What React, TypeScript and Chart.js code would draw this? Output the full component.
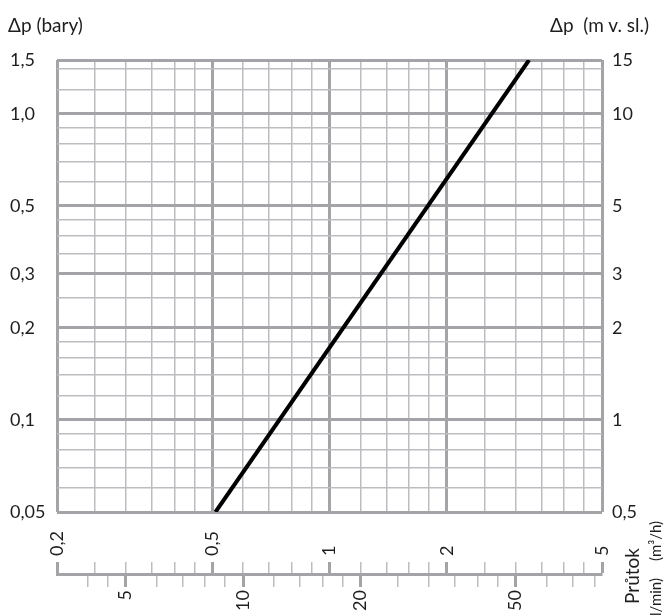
import React, { useEffect, useRef } from "react";
import { Chart, registerables } from "chart.js";

Chart.register(...registerables);

// ---- data ----
const flowM3h = [0.51, 3.25];
const pressureBar = [0.05, 1.5];

const xTicksM3h = [0.2, 0.25, 0.3, 0.35, 0.4, 0.45, 0.5, 0.6, 0.7, 0.8, 0.9, 1, 1.2, 1.4, 1.6, 1.8, 2, 2.5, 3, 3.5, 4, 4.5, 5];
const labeledM3h = [0.2, 0.5, 1, 2, 5];
const majorM3h = [0.2, 0.5, 1, 2, 5];

const yTicksBar = [0.05, 0.06, 0.07, 0.08, 0.09, 0.1, 0.12, 0.14, 0.16, 0.18, 0.2, 0.25, 0.3, 0.35, 0.4, 0.45, 0.5, 0.6, 0.7, 0.8, 0.9, 1, 1.2, 1.4, 1.5];
const labeledBar = [0.05, 0.1, 0.2, 0.3, 0.5, 1, 1.5];
const majorBar = [0.05, 0.1, 0.2, 0.3, 0.5, 1, 1.5];

const ticksMvsl = [0.5, 1, 2, 3, 5, 10, 15];

const ticksLmin = [4, 4.5, 5, 6, 7, 8, 9, 10, 12, 14, 16, 18, 20, 25, 30, 35, 40, 45, 50, 60, 70, 80];
const labeledLmin = [5, 10, 20, 50];

const FONT_FAMILY = "Lato, 'DejaVu Sans', sans-serif";
const TEXT = "#1e1e1e";
const MAJOR = "#a4a4a8";
const MINOR = "#bdbdc1";
const TICK_SIZE = 18;

const fmt = (v: number) => String(v).replace(".", ",");
const fmtBar = (v: number) => (v >= 1 ? v.toFixed(1) : String(v)).replace(".", ",");

const setTicks = (values: number[]) => (scale: any) => {
  scale.ticks = values.map((v) => ({ value: v }));
};

const widthBy = (major: number[], w1: number, w2: number) => (ctx: any) =>
  ctx.tick && major.includes(ctx.tick.value) ? w1 : w2;
const colorBy = (major: number[]) => (ctx: any) =>
  ctx.tick && major.includes(ctx.tick.value) ? MAJOR : MINOR;

export default function App() {
  const mainRef = useRef<HTMLCanvasElement | null>(null);
  const axisRef = useRef<HTMLCanvasElement | null>(null);

  useEffect(() => {
    const tickFont = { family: FONT_FAMILY, size: TICK_SIZE };

    const main = new Chart(mainRef.current as HTMLCanvasElement, {
      type: "line",
      data: {
        datasets: [
          {
            data: flowM3h.map((x, i) => ({ x, y: pressureBar[i] })),
            borderColor: "#000",
            borderWidth: 4,
            pointRadius: 0,
            fill: false,
            tension: 0,
            xAxisID: "x",
            yAxisID: "y",
          },
        ],
      },
      options: {
        responsive: false,
        animation: false,
        events: [],
        layout: { padding: { left: 10, right: 0, top: 60, bottom: 104 } },
        plugins: { legend: { display: false }, tooltip: { enabled: false } },
        scales: {
          x: {
            type: "logarithmic",
            position: "bottom",
            min: 0.2,
            max: 5,
            afterBuildTicks: setTicks(xTicksM3h),
            afterFit: (s: any) => {
              s.height = 0;
              s.paddingLeft = 0;
              s.paddingRight = 0;
            },
            ticks: { display: false, autoSkip: false },
            grid: {
              drawTicks: false,
              lineWidth: widthBy(majorM3h, 3, 1.5),
              color: colorBy(majorM3h),
            },
            border: { display: false },
          },
          y: {
            type: "logarithmic",
            position: "left",
            min: 0.05,
            max: 1.5,
            afterBuildTicks: setTicks(yTicksBar),
            afterFit: (s: any) => {
              s.width = 47;
              s.paddingTop = 0;
              s.paddingBottom = 0;
            },
            ticks: {
              autoSkip: false,
              crossAlign: "far",
              padding: 0,
              font: tickFont,
              color: TEXT,
              callback: (v: any) => (labeledBar.includes(Number(v)) ? fmtBar(Number(v)) : ""),
            },
            grid: {
              drawTicks: false,
              lineWidth: widthBy(majorBar, 3, 1.5),
              color: colorBy(majorBar),
            },
            border: { display: false },
          },
          y2: {
            type: "logarithmic",
            position: "right",
            min: 0.5,
            max: 15,
            afterBuildTicks: setTicks(ticksMvsl),
            afterFit: (s: any) => {
              s.width = 68;
              s.paddingTop = 0;
              s.paddingBottom = 0;
            },
            ticks: {
              autoSkip: false,
              padding: 10,
              font: tickFont,
              color: TEXT,
              callback: (v: any) => fmt(Number(v)),
            },
            grid: { drawOnChartArea: false, drawTicks: false },
            border: { display: false },
          },
        },
      },
    } as any);

    const axes = new Chart(axisRef.current as HTMLCanvasElement, {
      type: "line",
      data: { datasets: [] },
      options: {
        responsive: false,
        animation: false,
        events: [],
        layout: { padding: { left: 57, right: 68, top: 500, bottom: 0 } },
        plugins: { legend: { display: false }, tooltip: { enabled: false } },
        scales: {
          xm: {
            type: "logarithmic",
            position: "top",
            min: 0.2,
            max: 5,
            afterBuildTicks: setTicks(xTicksM3h),
            afterFit: (s: any) => {
              s.height = 73;
              s.paddingLeft = 0;
              s.paddingRight = 0;
            },
            ticks: {
              autoSkip: false,
              minRotation: 90,
              maxRotation: 90,
              padding: 6,
              labelOffset: TICK_SIZE * 1.2,
              font: tickFont,
              color: TEXT,
              callback: (v: any) => (labeledM3h.includes(Number(v)) ? fmt(Number(v)) : ""),
            },
            grid: {
              drawOnChartArea: false,
              tickLength: 11,
              lineWidth: widthBy(majorM3h, 3, 1.5),
              tickWidth: widthBy(majorM3h, 3, 1.5),
              tickColor: colorBy(majorM3h),
            },
            border: { display: false },
          },
          xl: {
            type: "logarithmic",
            position: "bottom",
            min: 10 / 3,
            max: 250 / 3,
            afterBuildTicks: setTicks(ticksLmin),
            afterFit: (s: any) => {
              s.height = 42;
              s.paddingLeft = 0;
              s.paddingRight = 0;
            },
            ticks: {
              autoSkip: false,
              minRotation: 90,
              maxRotation: 90,
              padding: 3,
              font: tickFont,
              color: TEXT,
              callback: (v: any) => (labeledLmin.includes(Number(v)) ? fmt(Number(v)) : ""),
            },
            grid: {
              drawOnChartArea: false,
              tickLength: 13,
              lineWidth: widthBy(labeledLmin, 3, 1.5),
              tickWidth: widthBy(labeledLmin, 3, 1.5),
              tickColor: colorBy(labeledLmin),
            },
            border: { display: true, width: 3, color: MAJOR },
          },
          y: { display: false },
        },
      },
    } as any);

    return () => {
      main.destroy();
      axes.destroy();
    };
  }, []);

  const base: React.CSSProperties = {
    position: "absolute",
    fontFamily: FONT_FAMILY,
    color: TEXT,
    whiteSpace: "pre",
    lineHeight: "22px",
  };
  const rot: React.CSSProperties = {
    ...base,
    transformOrigin: "left top",
    transform: "rotate(-90deg)",
  };

  return (
    <div
      style={{
        position: "fixed",
        left: 0,
        top: 0,
        width: 670,
        height: 616,
        background: "#fff",
        overflow: "hidden",
      }}
    >
      <canvas ref={mainRef} width={670} height={616} style={{ position: "absolute", left: 0, top: 0 }} />
      <canvas ref={axisRef} width={670} height={616} style={{ position: "absolute", left: 0, top: 0 }} />
      <div style={{ ...base, left: 8, top: 14, fontSize: 19 }}>Δp (bary)</div>
      <div style={{ ...base, right: 21, top: 14, fontSize: 19 }}>Δp  (m v. sl.)</div>
      <div style={{ ...rot, left: 621, top: 604, fontSize: 19, lineHeight: "22px" }}>Průtok</div>
      <div style={{ ...rot, left: 646, top: 561, fontSize: 15, lineHeight: "18px" }}>(m³/h)</div>
      <div style={{ ...rot, left: 646, top: 620, fontSize: 15, lineHeight: "18px" }}>(l/min)</div>
    </div>
  );
}
